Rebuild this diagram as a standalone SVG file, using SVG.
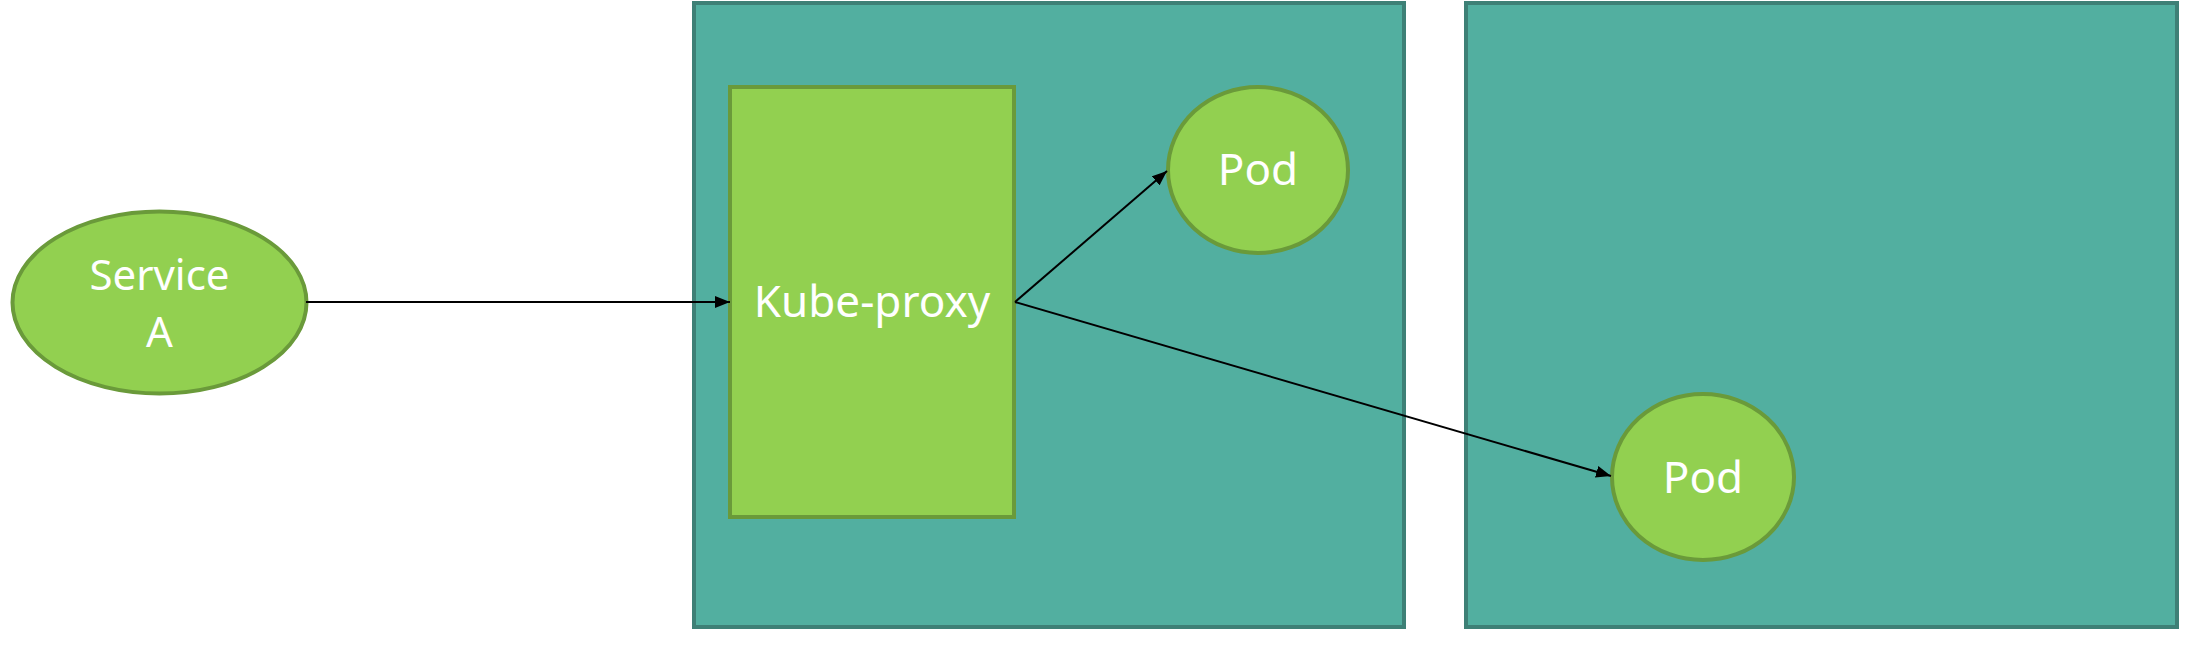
<svg xmlns="http://www.w3.org/2000/svg" width="2202" height="648" viewBox="0 0 2202 648">
<style>
.box{fill:#52AFA0;stroke:#3E8076;stroke-width:4}
.g{fill:#92D050;stroke:#6A9A3A;stroke-width:4}
.t{font-family:"Noto Sans","Open Sans",sans-serif;font-size:44px;fill:#FFFFFF;text-anchor:middle}
.s{font-size:42px}
.c{stroke:#000;stroke-width:2;fill:none}
</style>
<defs>
<marker id="a" viewBox="0 0 15 12" refX="15" refY="6" markerWidth="15" markerHeight="12" orient="auto" markerUnits="userSpaceOnUse">
<path d="M0,0 L15,6 L0,12 z" fill="#000"/>
</marker>
</defs>
<g id="node1"><rect class="box" x="694" y="3" width="710" height="624"/></g>
<g id="node2"><rect class="box" x="1466" y="3" width="711" height="624"/></g>
<g id="kube-proxy"><rect class="g" x="730" y="87" width="284" height="430"/><text class="t" x="872" y="317">Kube-proxy</text></g>
<g id="pod1"><ellipse class="g" cx="1258" cy="170" rx="90" ry="83"/><text class="t" x="1258" y="185">Pod</text></g>
<g id="pod2"><ellipse class="g" cx="1703" cy="477" rx="91" ry="83"/><text class="t" x="1703" y="493">Pod</text></g>
<g id="serviceA"><ellipse class="g" cx="159.5" cy="302.5" rx="147" ry="91"/><text class="t s" x="159.5" y="290">Service</text><text class="t s" x="159.5" y="347">A</text></g>
<g id="connectors">
<line class="c" x1="306" y1="302" x2="730" y2="302" marker-end="url(#a)"/>
<line class="c" x1="1015" y1="302" x2="1167" y2="171" marker-end="url(#a)"/>
<line class="c" x1="1015" y1="302" x2="1611" y2="476" marker-end="url(#a)"/>
</g>
</svg>
